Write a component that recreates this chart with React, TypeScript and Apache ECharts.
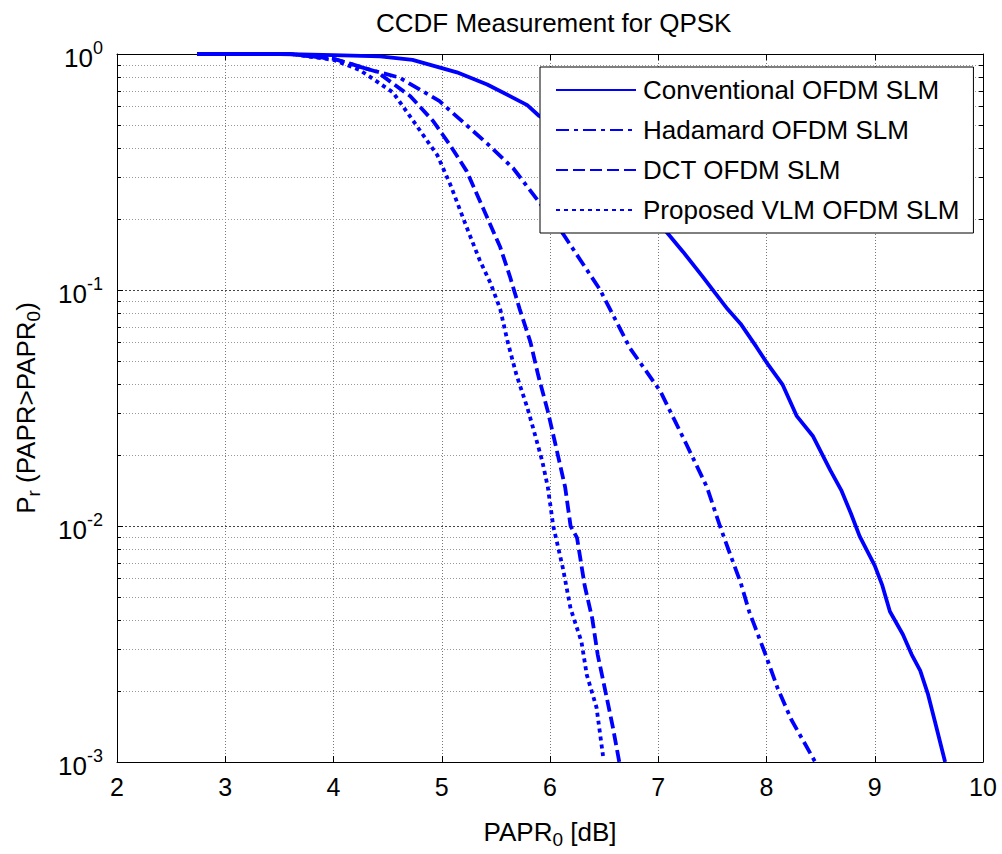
import React, { useEffect, useRef } from "react";
import * as echarts from "echarts";

// ---- Data (x = PAPR0 in dB, y = CCDF probability) ----
const convX = [2.74, 3.5, 4.0, 4.43, 4.73, 5.14, 5.42, 5.79, 5.9, 6.3, 6.7, 7.04, 7.23, 7.41, 7.5, 7.64, 7.76, 7.91, 8.0, 8.15, 8.28, 8.43, 8.59, 8.69, 8.78, 8.86, 9.0, 9.07, 9.14, 9.26, 9.34, 9.42, 9.49, 9.56, 9.65];
const convY = [1, 1, 0.989, 0.977, 0.944, 0.836, 0.743, 0.607, 0.546, 0.417, 0.282, 0.1845, 0.145, 0.114, 0.1007, 0.083, 0.072, 0.0571, 0.0494, 0.0396, 0.0292, 0.024, 0.0172, 0.0142, 0.0113, 0.00906, 0.00679, 0.0056, 0.00434, 0.00347, 0.00286, 0.00244, 0.00195, 0.00146, 0.001];

const hadX = [2.74, 3.6, 4.0, 4.27, 4.61, 4.98, 5.42, 5.66, 5.88, 6.12, 6.46, 6.74, 7.02, 7.26, 7.45, 7.57, 7.67, 7.76, 7.84, 7.99, 8.1, 8.23, 8.45];
const hadY = [1, 1, 0.955, 0.875, 0.794, 0.631, 0.417, 0.328, 0.242, 0.173, 0.1007, 0.0566, 0.0372, 0.0222, 0.0146, 0.01, 0.00746, 0.00578, 0.00434, 0.00286, 0.00207, 0.00151, 0.001];

const dctX = [2.74, 3.6, 4.0, 4.4, 4.71, 4.92, 5.08, 5.23, 5.38, 5.54, 5.63, 5.72, 5.82, 5.89, 5.98, 6.05, 6.14, 6.19, 6.25, 6.32, 6.39, 6.44, 6.51, 6.58, 6.64];
const dctY = [1, 1, 0.955, 0.841, 0.662, 0.52, 0.409, 0.319, 0.223, 0.152, 0.114, 0.083, 0.06, 0.0437, 0.0306, 0.0222, 0.0146, 0.01, 0.0089, 0.0056, 0.00406, 0.00286, 0.00201, 0.00141, 0.001];

const vlmX = [2.74, 3.6, 4.0, 4.24, 4.55, 4.77, 4.96, 5.08, 5.23, 5.35, 5.45, 5.54, 5.61, 5.69, 5.79, 5.86, 5.93, 5.98, 6.03, 6.12, 6.19, 6.29, 6.34, 6.43, 6.49];
const vlmY = [1, 1, 0.944, 0.857, 0.687, 0.495, 0.372, 0.279, 0.1845, 0.134, 0.107, 0.083, 0.06, 0.0437, 0.0318, 0.0245, 0.0187, 0.0146, 0.01, 0.0066, 0.00447, 0.00324, 0.00234, 0.0017, 0.00106];

const seriesNames = ["Conventional OFDM SLM", "Hadamard OFDM SLM", "DCT OFDM SLM", "Proposed VLM OFDM SLM"];
const xTicks = [2, 3, 4, 5, 6, 7, 8, 9, 10];
const minorYValues = [
  0.002, 0.003, 0.004, 0.005, 0.006, 0.007, 0.008, 0.009,
  0.02, 0.03, 0.04, 0.05, 0.06, 0.07, 0.08, 0.09,
  0.2, 0.3, 0.4, 0.5, 0.6, 0.7, 0.8, 0.9,
];

const FONT = "'Liberation Sans', Arial, Helvetica, sans-serif";
const BLUE = "#0000ff";

function pairs(xs: number[], ys: number[]) {
  return xs.map((x, i) => [x, ys[i]]);
}

export default function App() {
  const ref = useRef<HTMLDivElement>(null);

  useEffect(() => {
    if (!ref.current) return;
    const chart = echarts.init(ref.current, undefined, { renderer: "svg" });

    const lineBase = (name: string, data: number[][], type: any) => ({
      name,
      type: "line",
      data,
      showSymbol: false,
      symbol: "none",
      smooth: false,
      z: 3,
      lineStyle: { color: BLUE, width: 3.8, type, cap: "butt" },
      itemStyle: { color: BLUE },
    });

    const option: any = {
      animation: false,
      backgroundColor: "#fff",
      title: {
        text: "CCDF Measurement for QPSK",
        left: 371,
        top: 5,
        textStyle: { fontFamily: FONT, fontSize: 26, fontWeight: "normal", color: "#000" },
      },
      grid: { left: 117, right: 19, top: 54, bottom: 81, containLabel: false },
      legend: {
        data: seriesNames,
        orient: "vertical",
        left: 540,
        top: 67,
        backgroundColor: "#fff",
        borderColor: "#000",
        borderWidth: 1,
        padding: [10, 14, 10, 15],
        itemGap: 14,
        itemWidth: 80,
        itemHeight: 14,
        borderRadius: 0,
        icon: undefined,
        itemStyle: { opacity: 0, borderWidth: 0 },
        textStyle: { fontFamily: FONT, fontSize: 26, color: "#000", lineHeight: 26, padding: [0, 0, 0, 2] },
        z: 10,
      },
      xAxis: [
        {
          type: "value",
          min: 2,
          max: 10,
          interval: 1,
          position: "bottom",
          name: "{n|PAPR}{sub|0}{n| [dB]}",
          nameLocation: "middle",
          nameGap: 53,
          nameTextStyle: {
            fontFamily: FONT,
            color: "#000",
            rich: {
              n: { fontFamily: FONT, fontSize: 26, color: "#000" },
              sub: { fontFamily: FONT, fontSize: 19, color: "#000", padding: [15, 0, 0, 0] },
            },
          },
          axisLine: { show: true, lineStyle: { color: "#000", width: 1 } },
          axisTick: { show: true, inside: true, length: 6, lineStyle: { color: "#000" } },
          axisLabel: {
            margin: 12,
            fontFamily: FONT,
            fontSize: 25,
            color: "#000",
            formatter: (v: number) => (xTicks.includes(v) ? String(v) : ""),
          },
          splitLine: { show: true, lineStyle: { color: "#777", type: [1, 2], width: 1 } },
        },
        {
          type: "value",
          min: 2,
          max: 10,
          interval: 1,
          position: "top",
          axisLine: { show: true, lineStyle: { color: "#000", width: 1 } },
          axisTick: { show: true, inside: true, length: 6, lineStyle: { color: "#000" } },
          axisLabel: { show: false },
          splitLine: { show: false },
        },
      ],
      yAxis: [
        {
          type: "log",
          logBase: 10,
          min: 0.001,
          max: 1,
          position: "left",
          name: "{n|P}{sub|r}{n| (PAPR>PAPR}{sub|0}{n|)}",
          nameLocation: "middle",
          nameRotate: 90,
          nameGap: 74,
          nameTextStyle: {
            fontFamily: FONT,
            color: "#000",
            padding: [0, 0, 0, 0],
            rich: {
              n: { fontFamily: FONT, fontSize: 26, color: "#000" },
              sub: { fontFamily: FONT, fontSize: 19, color: "#000", padding: [15, 0, 0, 0] },
            },
          },
          axisLine: { show: true, lineStyle: { color: "#000", width: 1 } },
          axisTick: { show: true, inside: true, length: 6, lineStyle: { color: "#000" } },
          axisLabel: {
            margin: 14,
            color: "#000",
            formatter: (v: number) => {
              const e = Math.round(Math.log10(v));
              return "{b|10}{s|" + (e === 0 ? "0" : "-" + Math.abs(e)) + "}";
            },
            rich: {
              b: { fontFamily: FONT, fontSize: 26, color: "#000", padding: [8, 0, 0, 0] },
              s: { fontFamily: FONT, fontSize: 18, color: "#000", padding: [0, 0, 12, 0] },
            },
          },
          splitLine: { show: true, lineStyle: { color: "#444", type: [2, 2], width: 1 } },
        },
        {
          type: "log",
          logBase: 10,
          min: 0.001,
          max: 1,
          position: "right",
          axisLine: { show: true, lineStyle: { color: "#000", width: 1 } },
          axisTick: { show: true, inside: true, length: 6, lineStyle: { color: "#000" } },
          axisLabel: { show: false },
          splitLine: { show: false },
        },
      ],
      series: [
        {
          name: "minorGrid",
          type: "custom",
          xAxisIndex: 0,
          yAxisIndex: 0,
          z: 1,
          silent: true,
          data: minorYValues.map((v) => [2, v]),
          encode: { x: 0, y: 1 },
          renderItem: (params: any, api: any) => {
            const cs = params.coordSys;
            const y = Math.round(api.coord([2, api.value(1)])[1]) + 0.5;
            return {
              type: "group",
              children: [
                {
                  type: "line",
                  shape: { x1: cs.x, y1: y, x2: cs.x + cs.width, y2: y },
                  style: { stroke: "#999", lineWidth: 1, lineDash: [1, 2] },
                },
                {
                  type: "line",
                  shape: { x1: cs.x, y1: y, x2: cs.x + 4, y2: y },
                  style: { stroke: "#000", lineWidth: 1 },
                },
                {
                  type: "line",
                  shape: { x1: cs.x + cs.width - 4, y1: y, x2: cs.x + cs.width, y2: y },
                  style: { stroke: "#000", lineWidth: 1 },
                },
              ],
            };
          },
        },
        lineBase(seriesNames[0], pairs(convX, convY), "solid"),
        lineBase(seriesNames[1], pairs(hadX, hadY), [13, 5, 4, 5]),
        lineBase(seriesNames[2], pairs(dctX, dctY), [12, 5]),
        lineBase(seriesNames[3], pairs(vlmX, vlmY), [4, 4]),
      ],
    };

    chart.setOption(option);
    return () => chart.dispose();
  }, []);

  return (
    <div
      ref={ref}
      style={{ position: "fixed", left: 0, top: 0, width: 1002, height: 854, background: "#fff" }}
    />
  );
}
